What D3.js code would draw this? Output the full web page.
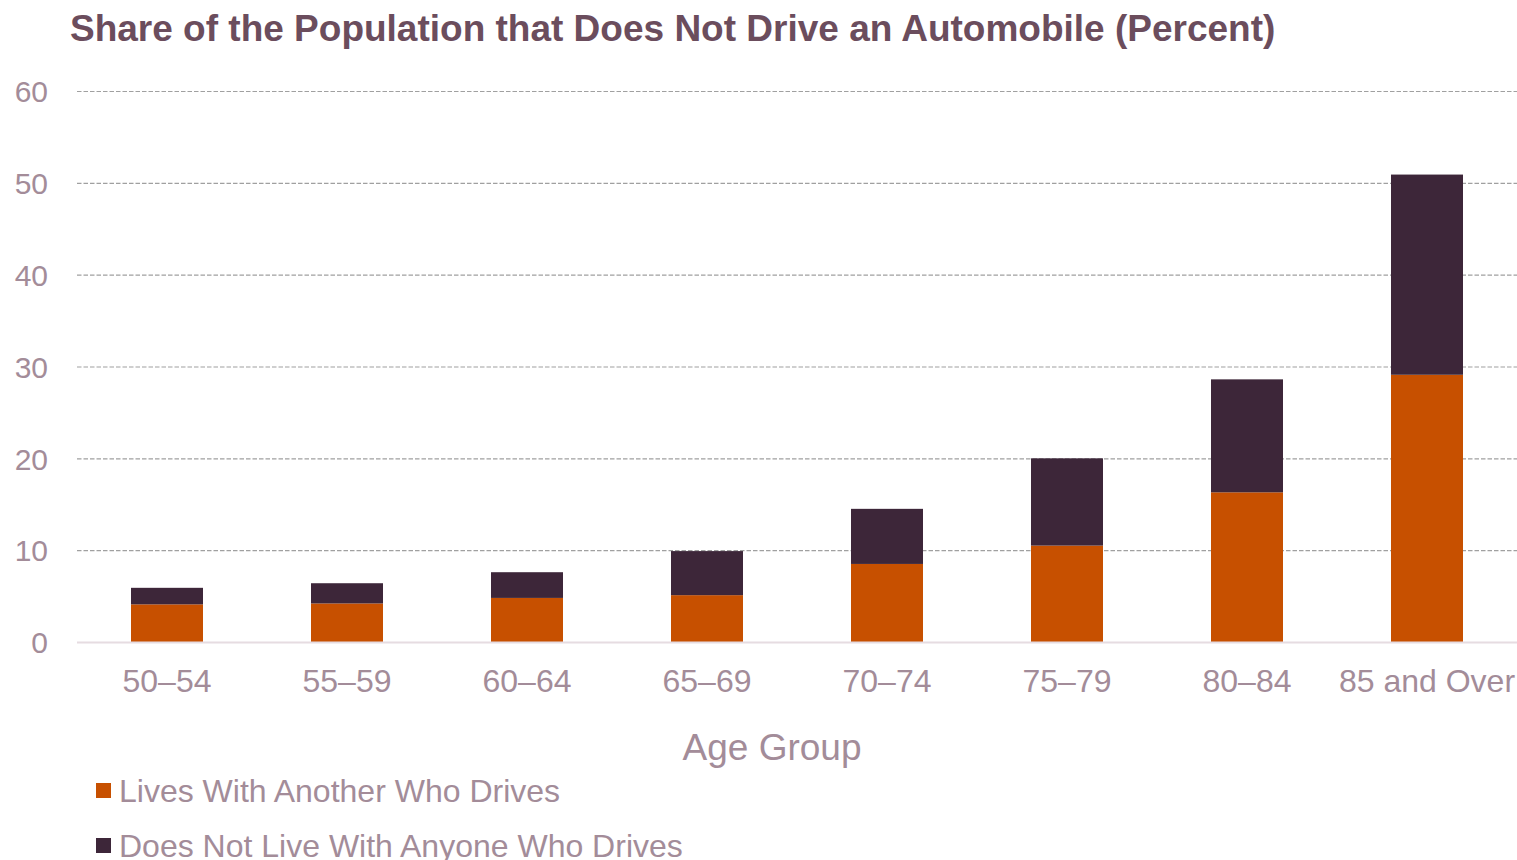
<!DOCTYPE html>
<html><head><meta charset="utf-8">
<script src="https://cdn.jsdelivr.net/npm/d3@7"></script>
<style>
html,body{margin:0;padding:0;background:#fff;}
svg{display:block;font-family:"Liberation Sans",Arial,sans-serif;}
</style></head>
<body><svg id="chart" width="1517" height="860"></svg>
<script>
const categories = ["50–54","55–59","60–64","65–69","70–74","75–79","80–84","85 and Over"];
const livesWithDriver = [4.1, 4.2, 4.8, 5.1, 8.5, 10.5, 16.3, 29.1];
const noDriverInHome = [1.8, 2.2, 2.8, 4.8, 6.0, 9.5, 12.3, 21.8];
const seriesNames = ["Lives With Another Who Drives","Does Not Live With Anyone Who Drives"];
const seriesColors = ["#C75000","#3D2639"];
const yTicks = [0,10,20,30,40,50,60];

const svg = d3.select("#chart");
const margin = {left:77, right:0, top:91, bottom:218};
const W = 1517, H = 860;
const x = d3.scaleBand().domain(categories).range([margin.left, W - margin.right]).paddingInner(0.6).paddingOuter(0.3);
const y = d3.scaleLinear().domain([0,60]).range([642, 91]);

const rows = categories.map((c,i)=>({cat:c, a:livesWithDriver[i], b:noDriverInHome[i]}));
const stack = d3.stack().keys(["a","b"])(rows);

// title
svg.append("text").attr("x",70).attr("y",41)
  .attr("font-size",37).attr("font-weight","bold").attr("fill","#6B4D5D")
  .text("Share of the Population that Does Not Drive an Automobile (Percent)");

// gridlines
svg.append("g").selectAll("line").data(yTicks.filter(d=>d>0)).join("line")
  .attr("x1",margin.left).attr("x2",W).attr("y1",d=>y(d)+0.5).attr("y2",d=>y(d)+0.5)
  .attr("stroke","#A0A0A0").attr("stroke-width",1.2).attr("stroke-dasharray","4.5,2");

// y axis labels
const yAxis = d3.axisLeft(y).tickValues(yTicks).tickSize(0).tickPadding(0);
const yg = svg.append("g").attr("transform",`translate(48,0)`).call(yAxis);
yg.select(".domain").remove();
yg.selectAll("text").attr("font-size",30).attr("fill","#A38C99").attr("font-family","Liberation Sans, Arial, sans-serif").attr("dy","0.36em");

// bars
svg.append("g").selectAll("g").data(stack).join("g")
  .attr("fill",(d,i)=>seriesColors[i])
  .selectAll("rect").data(d=>d).join("rect")
  .attr("x",d=>x(d.data.cat)).attr("width",x.bandwidth())
  .attr("y",d=>y(d[1])).attr("height",d=>y(d[0])-y(d[1]));

// baseline
svg.append("line").attr("x1",margin.left).attr("x2",W).attr("y1",y(0)+0.5).attr("y2",y(0)+0.5)
  .attr("stroke","#E6DCE1").attr("stroke-width",2);

// x axis
const xAxis = d3.axisBottom(x).tickSize(0).tickPadding(0);
const xg = svg.append("g").attr("transform",`translate(0,${y(0)})`).call(xAxis);
xg.select(".domain").remove();
xg.selectAll("text").attr("font-size",32).attr("fill","#A38C99").attr("font-family","Liberation Sans, Arial, sans-serif").attr("dy",null).attr("y",50);

// x axis title
svg.append("text").attr("x",772).attr("y",760).attr("text-anchor","middle")
  .attr("font-size",37).attr("fill","#A38C99").text("Age Group");

// legend
const lg = svg.append("g").selectAll("g").data(seriesNames).join("g")
  .attr("transform",(d,i)=>`translate(96,${783 + i*55})`);
lg.append("rect").attr("width",15).attr("height",15).attr("fill",(d,i)=>seriesColors[i]);
lg.append("text").attr("x",23).attr("y",19).attr("font-size",32).attr("fill","#A38C99").text(d=>d);
</script></body></html>
